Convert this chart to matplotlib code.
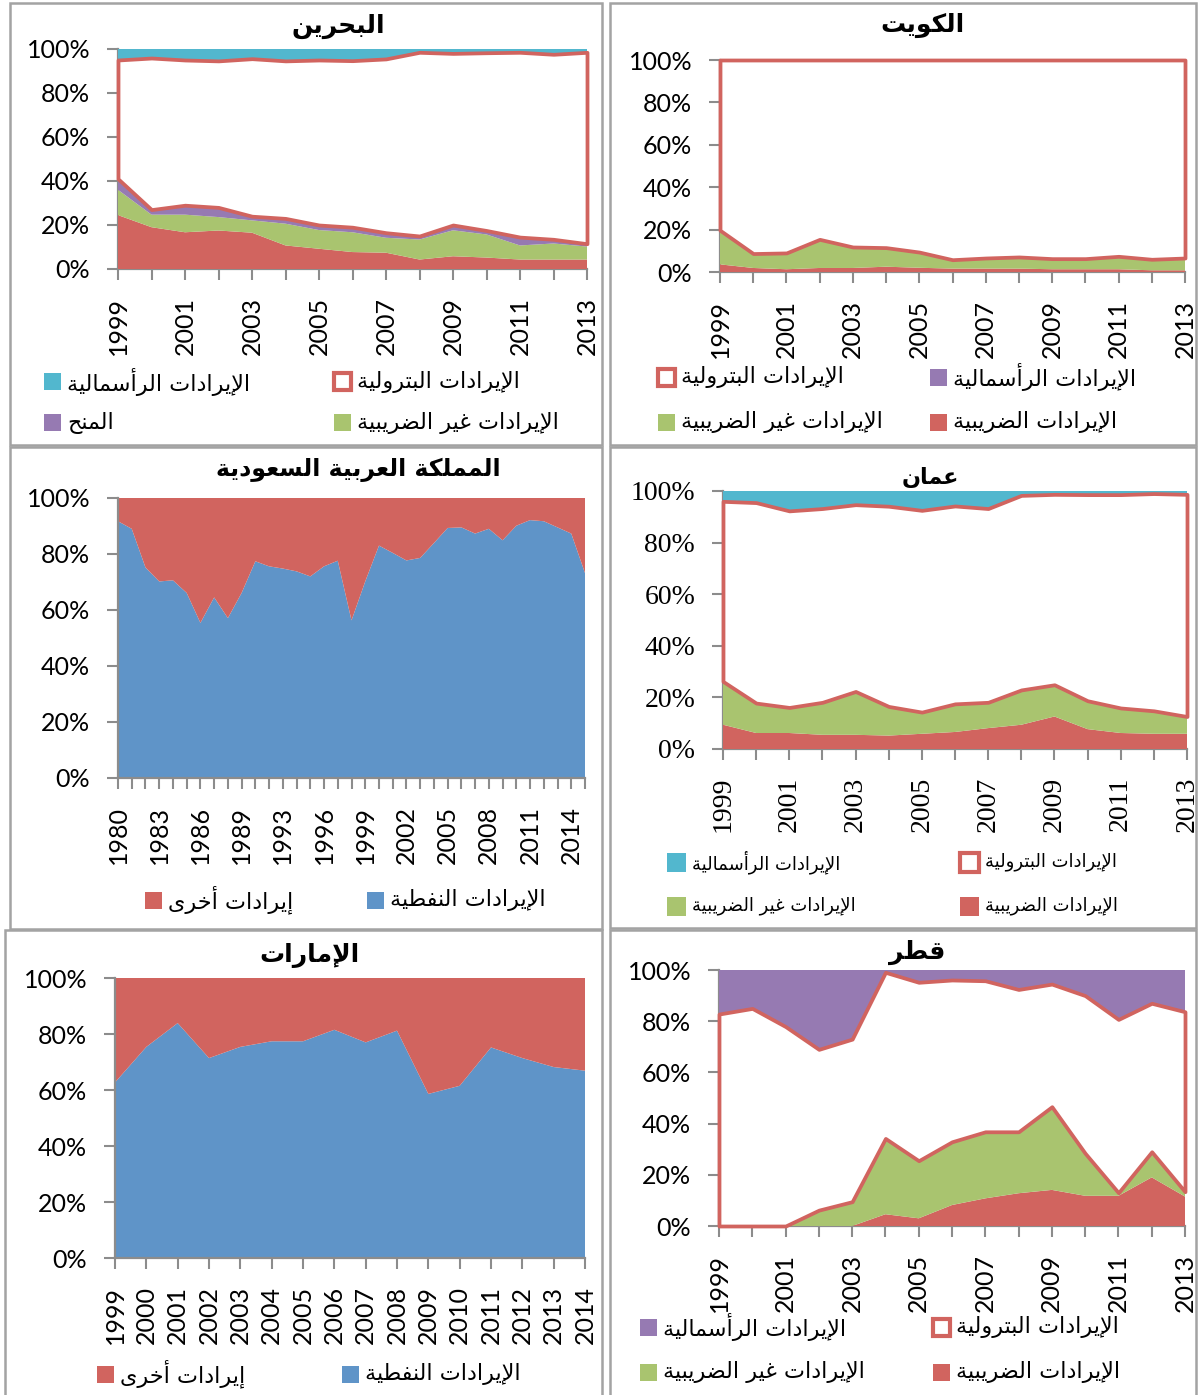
import numpy as np
import matplotlib.pyplot as plt
from matplotlib.patches import Rectangle

# ---- Arabic shaping (presentation forms, visual order) ----
FORMS = {
    'ا': (0xFE8D, 2), 'أ': (0xFE83, 2), 'إ': (0xFE87, 2), 'آ': (0xFE81, 2),
    'ب': (0xFE8F, 4), 'ة': (0xFE93, 2), 'ت': (0xFE95, 4), 'ح': (0xFEA1, 4),
    'خ': (0xFEA5, 4), 'د': (0xFEA9, 2), 'ر': (0xFEAD, 2), 'س': (0xFEB1, 4),
    'ض': (0xFEBD, 4), 'ط': (0xFEC1, 4), 'ع': (0xFEC9, 4), 'غ': (0xFECD, 4),
    'ف': (0xFED1, 4), 'ق': (0xFED5, 4), 'ك': (0xFED9, 4), 'ل': (0xFEDD, 4),
    'م': (0xFEE1, 4), 'ن': (0xFEE5, 4), 'و': (0xFEED, 2), 'ى': (0xFEEF, 2),
    'ي': (0xFEF1, 4),
}
LAM_ALEF = {'ا': 0xFEFB, 'أ': 0xFEF7, 'إ': 0xFEF9, 'آ': 0xFEF5}


def shape(text):
    out = []
    prev_joins = False
    i = 0
    while i < len(text):
        c = text[i]
        if c not in FORMS:
            out.append(c)
            prev_joins = False
            i += 1
            continue
        if c == 'ل' and i + 1 < len(text) and text[i + 1] in LAM_ALEF:
            out.append(chr(LAM_ALEF[text[i + 1]] + (1 if prev_joins else 0)))
            prev_joins = False
            i += 2
            continue
        base, nforms = FORMS[c]
        nxt = text[i + 1] if i + 1 < len(text) else None
        next_joins = nforms == 4 and nxt in FORMS
        if prev_joins and next_joins:
            code = base + 3
        elif prev_joins:
            code = base + 1
        elif next_joins:
            code = base + 2
        else:
            code = base
        out.append(chr(code))
        prev_joins = next_joins
        i += 1
    return ''.join(reversed(out))


# ---- data (shares in %) ----
years_99_13 = list(range(1999, 2014))

bh_tax = [24.5, 19.0, 16.7, 17.5, 16.5, 10.7, 9.2, 7.7, 7.4, 4.3, 5.8, 5.2, 4.3, 4.3, 4.3]
bh_nontax = [11.5, 5.7, 8.0, 6.1, 5.6, 9.9, 8.5, 9.0, 6.8, 9.1, 11.8, 10.5, 6.4, 7.3, 5.9]
bh_grants = [5.0, 2.3, 4.3, 4.4, 1.9, 2.4, 2.3, 2.3, 2.3, 1.6, 2.4, 1.8, 3.8, 1.9, 1.3]
bh_oil = [54.0, 68.9, 66.0, 66.6, 71.6, 71.6, 75.0, 75.7, 79.0, 83.5, 78.0, 80.8, 84.0, 84.1, 87.0]
bh_capital = [5.0, 4.1, 5.0, 5.4, 4.4, 5.4, 5.0, 5.3, 4.5, 1.5, 2.0, 1.7, 1.5, 2.4, 1.5]

kw_tax = [3.6, 1.9, 1.3, 1.9, 1.9, 2.5, 2.0, 1.6, 1.6, 1.6, 1.3, 1.3, 1.3, 0.8, 0.8]
kw_nontax = [16.1, 6.8, 7.7, 13.5, 9.9, 9.0, 7.4, 4.2, 5.0, 5.5, 5.0, 5.0, 6.1, 5.2, 5.8]
kw_capital = [0.0] * 15
kw_oil = [80.3, 91.3, 91.0, 84.6, 88.2, 88.5, 90.6, 94.2, 93.4, 92.9, 93.7, 93.7, 92.6, 94.0, 93.4]

sa_years = ['1980', '1981', '1982', '1983', '1984', '1985', '1986', '1987', '1988',
            '1989', '1990', '1991', '1993', '1994', '1995', '1996', '1997', '1998',
            '1999', '2000', '2001', '2002', '2003', '2004', '2005', '2006', '2007',
            '2008', '2009', '2010', '2011', '2012', '2013', '2014', '2015']
sa_oil = [91.7, 89.0, 75.2, 70.2, 70.6, 66.1, 55.4, 64.5, 57.1, 66.1, 77.4, 75.6,
          74.8, 73.8, 72.0, 75.6, 77.6, 56.3, 70.2, 83.0, 80.4, 77.7, 78.6, 83.9,
          89.3, 89.5, 87.3, 89.0, 84.9, 90.1, 92.1, 91.7, 89.5, 87.3, 73.2]

om_tax = [9.4, 6.2, 6.2, 5.5, 5.5, 5.2, 5.9, 6.6, 8.1, 9.4, 12.6, 7.7, 6.2, 5.9, 5.9]
om_nontax = [16.8, 11.6, 9.9, 12.6, 16.8, 11.3, 8.4, 10.9, 10.0, 13.5, 12.3, 11.0, 9.7, 8.9, 6.7]
om_oil = [69.8, 77.7, 76.2, 75.1, 72.4, 77.6, 78.2, 76.7, 75.1, 75.4, 73.8, 79.9, 82.7, 84.2, 86.1]
om_capital = [4.0, 4.5, 7.7, 6.8, 5.3, 5.9, 7.5, 5.8, 6.8, 1.7, 1.3, 1.4, 1.4, 1.0, 1.3]

ae_years = [str(y) for y in range(1999, 2015)]
ae_oil = [62.7, 75.4, 83.9, 71.4, 75.4, 77.4, 77.4, 81.5, 77.0, 81.2, 58.6, 61.5,
          75.2, 71.4, 68.2, 66.9]

qa_tax = [0.0, 0.0, 0.0, 0.0, 0.0, 4.6, 3.0, 8.2, 10.8, 12.8, 14.1, 11.8, 11.8, 19.0, 11.5]
qa_nontax = [0.0, 0.0, 0.0, 6.2, 9.5, 29.6, 22.5, 24.7, 26.0, 24.0, 32.5, 16.6, 1.2, 10.0, 1.9]
qa_oil = [82.8, 85.0, 77.9, 62.8, 63.5, 64.9, 69.7, 63.2, 59.0, 55.6, 47.9, 61.6, 67.7, 58.0, 70.3]
qa_capital = [17.2, 15.0, 22.1, 31.0, 27.0, 0.9, 4.8, 3.9, 4.2, 7.6, 5.5, 10.0, 19.3, 13.0, 16.3]

# labels
L_CAP = 'الإيرادات الرأسمالية'
L_OIL = 'الإيرادات البترولية'
L_GRANT = 'المنح'
L_NONTAX = 'الإيرادات غير الضريبية'
L_TAX = 'الإيرادات الضريبية'
L_OTHER = 'إيرادات أخرى'
L_PETRO = 'الإيرادات النفطية'

RED = '#D1645F'
GREEN = '#A9C46F'
PURPLE = '#967AB2'
CYAN = '#52B7CE'
BLUE = '#5F94C8'
GREY = '#8C8C8C'

plt.rcParams['font.family'] = ['Lato', 'DejaVu Sans']

W, H = 1198, 1395
fig = plt.figure(figsize=(W / 100, H / 100), dpi=100)


def axes_px(l, t, r, b):
    return fig.add_axes([l / W, 1 - b / H, (r - l) / W, (b - t) / H])


def frame(l, t, r, b):
    fig.add_artist(Rectangle((l / W, 1 - b / H), (r - l) / W, (b - t) / H,
                             transform=fig.transFigure, fill=False,
                             edgecolor='#A3A3A3', lw=1.8))


def title(x, y, text, size=18):
    fig.text(x / W, 1 - y / H, shape(text), ha='center', va='center',
             fontsize=size, fontweight='bold', family='DejaVu Sans')


def legend_item(x, y, text, color, outline=False, size=16, s=17):
    if outline:
        patch = Rectangle((x / W, 1 - (y + s / 2) / H), s / W, s / H,
                          transform=fig.transFigure, facecolor='white',
                          edgecolor=RED, lw=3)
    else:
        patch = Rectangle((x / W, 1 - (y + s / 2) / H), s / W, s / H,
                          transform=fig.transFigure, facecolor=color,
                          edgecolor='none')
    fig.add_artist(patch)
    fig.text((x + s + 6) / W, 1 - y / H, shape(text), ha='left', va='center',
             fontsize=size, family='DejaVu Sans')


def style_axes(ax, labels, step, font=None, size=18):
    n = len(labels)
    ax.set_xlim(0, n - 1)
    ax.set_ylim(0, 100)
    ax.set_xticks(np.arange(n))
    ax.set_xticklabels([lab if i % step == 0 else '' for i, lab in enumerate(labels)],
                       rotation=90)
    ax.set_yticks(range(0, 101, 20))
    ax.set_yticklabels([f'{v}%' for v in range(0, 101, 20)])
    ax.tick_params(axis='both', direction='out', length=8, width=1.5, color=GREY,
                   pad=12, labelsize=size)
    for sp in ['top', 'right']:
        ax.spines[sp].set_visible(False)
    for sp in ['left', 'bottom']:
        ax.spines[sp].set_color(GREY)
        ax.spines[sp].set_linewidth(1.6)
    if font:
        for lab in ax.get_xticklabels() + ax.get_yticklabels():
            lab.set_family(font)


def stacked(ax, series, colors, oil_index):
    x = np.arange(len(series[0]))
    polys = ax.stackplot(x, *series, colors=colors, linewidth=0)
    for p in polys:
        p.set_zorder(3)
    oil = polys[oil_index]
    oil.set_facecolor('white')
    oil.set_edgecolor(RED)
    oil.set_linewidth(2.7)
    oil.set_clip_on(False)
    oil.set_zorder(4)


yl = [str(y) for y in years_99_13]

# ---- panel frames ----
frame(10, 3, 602, 445)
frame(610, 3, 1196, 445)
frame(10, 447, 602, 929)
frame(610, 447, 1196, 928)
frame(5, 930, 602, 1400)
frame(610, 930, 1196, 1400)

# ---- Bahrain ----
ax = axes_px(118, 49, 587, 269)
stacked(ax, [bh_tax, bh_nontax, bh_grants, bh_oil, bh_capital],
        [RED, GREEN, PURPLE, 'white', CYAN], 3)
style_axes(ax, yl, 2)
title(338, 26, 'البحرين')
legend_item(44, 382, L_CAP, CYAN)
legend_item(334, 382, L_OIL, None, outline=True)
legend_item(44, 423, L_GRANT, PURPLE)
legend_item(334, 423, L_NONTAX, GREEN)

# ---- Kuwait ----
ax = axes_px(720, 60, 1185, 272)
stacked(ax, [kw_tax, kw_nontax, kw_capital, kw_oil],
        [RED, GREEN, PURPLE, 'white'], 3)
style_axes(ax, yl, 2)
title(923, 25, 'الكويت')
legend_item(658, 377, L_OIL, None, outline=True)
legend_item(930, 377, L_CAP, PURPLE)
legend_item(658, 422, L_NONTAX, GREEN)
legend_item(930, 422, L_TAX, RED)

# ---- Saudi Arabia ----
ax = axes_px(118, 498, 585, 778)
ax.stackplot(np.arange(len(sa_oil)), sa_oil, [100 - v for v in sa_oil],
             colors=[BLUE, RED], linewidth=0)
style_axes(ax, sa_years, 3)
title(358, 470, 'المملكة العربية السعودية', size=17)
legend_item(145, 900, L_OTHER, RED)
legend_item(367, 900, L_PETRO, BLUE)

# ---- Oman ----
ax = axes_px(723, 491, 1187, 749)
stacked(ax, [om_tax, om_nontax, om_oil, om_capital],
        [RED, GREEN, 'white', CYAN], 2)
style_axes(ax, yl, 2, font='Liberation Serif', size=20)
title(930, 477, 'عمان', size=16)
legend_item(667, 862, L_CAP, CYAN, size=13, s=19)
legend_item(960, 862, L_OIL, None, outline=True, size=13, s=19)
legend_item(667, 906, L_NONTAX, GREEN, size=13, s=19)
legend_item(960, 906, L_TAX, RED, size=13, s=19)

# ---- UAE ----
ax = axes_px(115, 978, 585, 1258)
ax.stackplot(np.arange(len(ae_oil)), ae_oil, [100 - v for v in ae_oil],
             colors=[BLUE, RED], linewidth=0)
style_axes(ax, ae_years, 1)
title(309, 955, 'الإمارات')
legend_item(97, 1374, L_OTHER, RED)
legend_item(342, 1374, L_PETRO, BLUE)

# ---- Qatar ----
ax = axes_px(719, 970, 1185, 1226)
stacked(ax, [qa_tax, qa_nontax, qa_oil, qa_capital],
        [RED, GREEN, 'white', PURPLE], 2)
style_axes(ax, yl, 2)
title(917, 952, 'قطر')
legend_item(640, 1327, L_CAP, PURPLE)
legend_item(933, 1327, L_OIL, None, outline=True)
legend_item(640, 1372, L_NONTAX, GREEN)
legend_item(933, 1372, L_TAX, RED)

fig.savefig('out.png', dpi=100)
